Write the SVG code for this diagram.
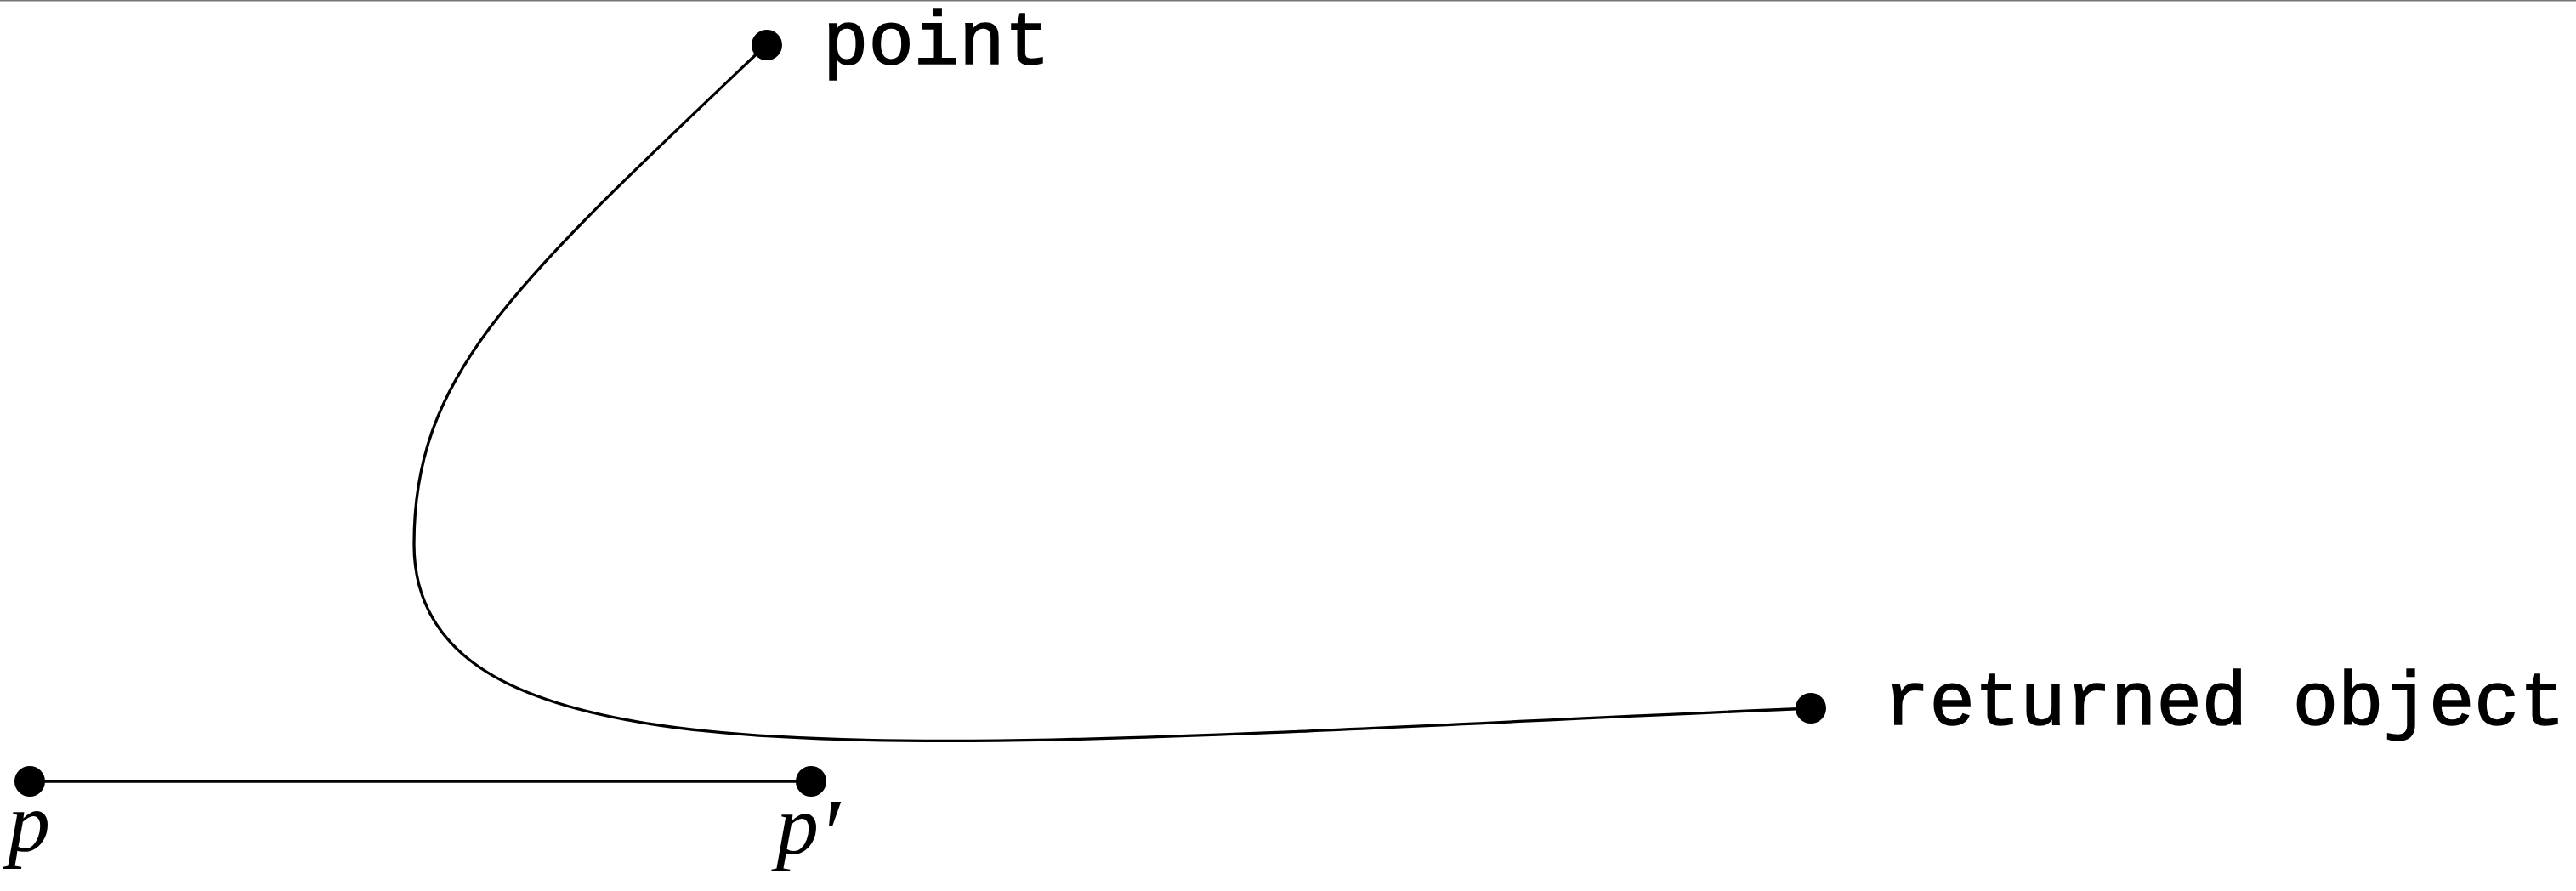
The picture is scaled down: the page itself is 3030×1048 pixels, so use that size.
<svg xmlns="http://www.w3.org/2000/svg" width="3030" height="1048" viewBox="0 0 3030 1048">
<style>
.tt{font-family:"Liberation Mono","DejaVu Sans Mono",monospace;font-size:89px;fill:#000;stroke:#000;stroke-width:1.6}
.math{font-family:"Liberation Serif","DejaVu Serif",serif;font-style:italic;font-size:100px;fill:#000}
.prime{font-family:"Liberation Serif","DejaVu Serif",serif;font-style:italic;font-size:118px}
.wire{fill:none;stroke:#000;stroke-width:3.3}
.dot{fill:#000}
</style>
<rect x="0" y="0" width="3030" height="1048" fill="#fff"/>
<rect x="0" y="0" width="3030" height="1.5" fill="#777"/>
<g id="connectors">
<path class="wire" d="M902,52 C602,337 487,440 487,640 C487,945 1100,876 2130,833"/>
<line class="wire" x1="35" y1="919" x2="954" y2="919"/>
</g>
<g id="node-point">
<circle class="dot" cx="902" cy="53" r="18"/>
<text class="tt" x="968" y="75">point</text>
</g>
<g id="node-returned">
<circle class="dot" cx="2130" cy="833" r="18"/>
<text class="tt" x="2216" y="852">returned object</text>
</g>
<g id="node-p">
<circle class="dot" cx="35" cy="919" r="18"/>
<text class="math" x="9" y="1001">p</text>
</g>
<g id="node-pprime">
<circle class="dot" cx="954" cy="919" r="18"/>
<text class="math" x="913" y="1004">p<tspan class="prime" x="962" y="1021">′</tspan></text>
</g>
</svg>
